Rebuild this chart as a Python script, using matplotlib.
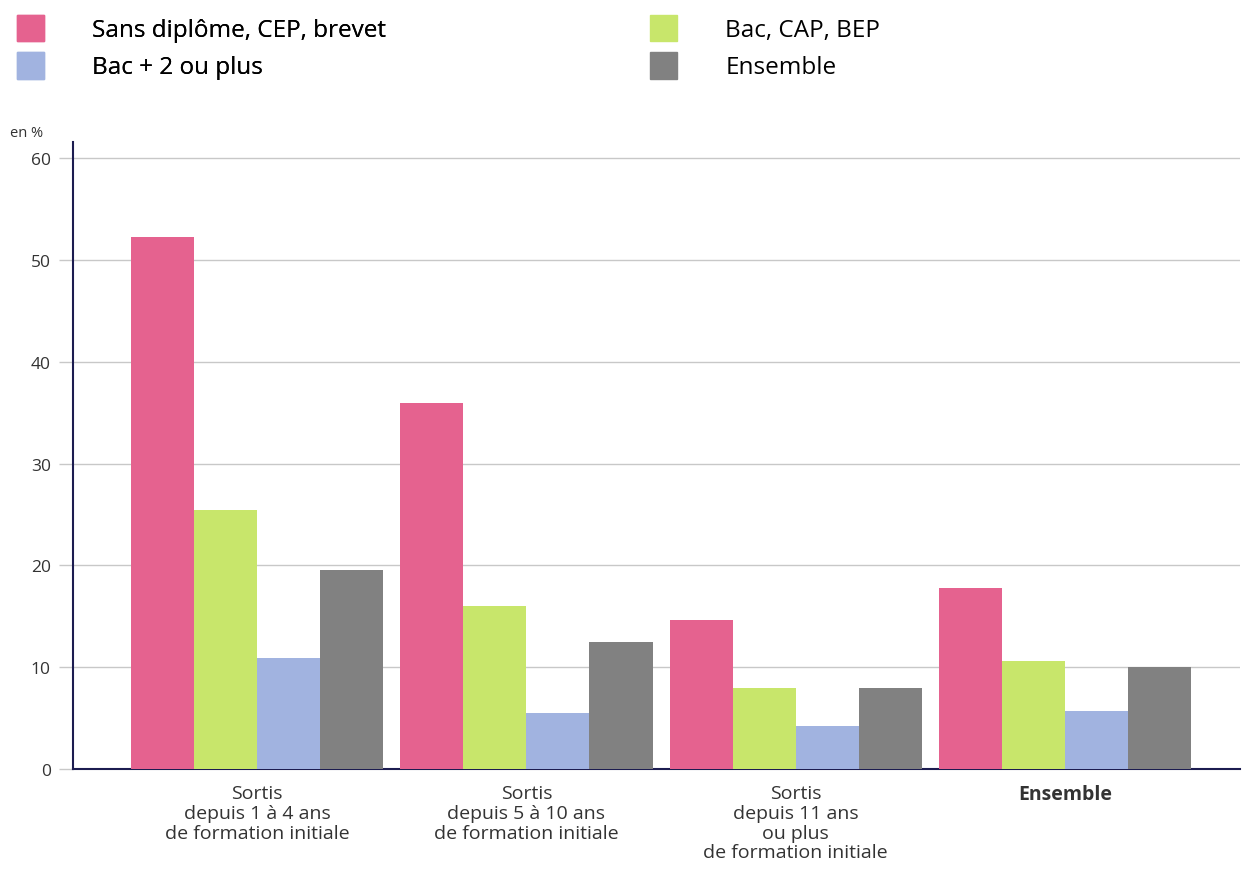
import numpy as np
import matplotlib
matplotlib.use("Agg")
import matplotlib.pyplot as plt
from matplotlib.patches import Patch

plt.rcParams['font.family'] = ['Open Sans', 'DejaVu Sans']

categories = ["Sortis\ndepuis 1 à 4 ans\nde formation initiale",
              "Sortis\ndepuis 5 à 10 ans\nde formation initiale",
              "Sortis\ndepuis 11 ans\nou plus\nde formation initiale",
              "Ensemble"]
series_names = ["Sans diplôme, CEP, brevet", "Bac, CAP, BEP",
                "Bac + 2 ou plus", "Ensemble"]
sans_diplome = [52.3, 36.0, 14.6, 17.8]
bac_cap_bep = [25.4, 16.0, 8.0, 10.6]
bac_plus2 = [10.9, 5.5, 4.2, 5.7]
ensemble = [19.6, 12.5, 8.0, 10.0]
yticks = [0, 10, 20, 30, 40, 50, 60]

colors = ["#E5628F", "#C8E66B", "#A1B3E0", "#818181"]
values = [sans_diplome, bac_cap_bep, bac_plus2, ensemble]

fig = plt.figure(figsize=(12.43, 8.70), dpi=100)
ax = fig.add_axes([0.0587, 0.115, 0.939, 0.7205])

x = np.arange(len(categories))
w = 0.234
for i, (vals, c) in enumerate(zip(values, colors)):
    ax.bar(x + (i - 1.5) * w, vals, width=w, color=c, zorder=3)

ax.set_xlim(-0.684, 3.65)
ax.set_ylim(0, 61.6)
ax.set_yticks(yticks)
ax.set_yticklabels([str(t) for t in yticks], fontsize=12.5, color="#333333")
ax.yaxis.grid(True, color="#c8c8c8", linewidth=1, zorder=0)
ax.tick_params(axis='y', length=10, color="#c8c8c8", width=1, pad=6)
ax.tick_params(axis='x', length=0, pad=11)
ax.set_xticks(x)
ax.set_xticklabels(categories, fontsize=14, color="#333333", linespacing=1.12, va='top')
ax.get_xticklabels()[-1].set_fontweight('bold')

for s in ['top', 'right']:
    ax.spines[s].set_visible(False)
ax.spines['left'].set_color("#1c1c50")
ax.spines['bottom'].set_color("#1c1c50")
ax.spines['left'].set_linewidth(1.5)
ax.spines['bottom'].set_linewidth(1.5)

fig.text(0.008, 0.843, "en %", fontsize=10.5, color="#333333")

h = [Patch(color=c) for c in colors]
leg_kw = dict(loc='upper left', frameon=False, fontsize=17.5, handlelength=1.1,
              handleheight=1.3, labelspacing=0.4, handletextpad=2.0,
              borderaxespad=0, borderpad=0)
leg1 = fig.legend([h[0], h[2]], [series_names[0], series_names[2]],
                  bbox_to_anchor=(17 / 1243, 1 - 16 / 870), **leg_kw)
leg2 = fig.legend([h[1], h[3]], [series_names[1], series_names[3]],
                  bbox_to_anchor=(650 / 1243, 1 - 16 / 870), **leg_kw)
fig.add_artist(leg1)

fig.savefig("out.png", dpi=100)
